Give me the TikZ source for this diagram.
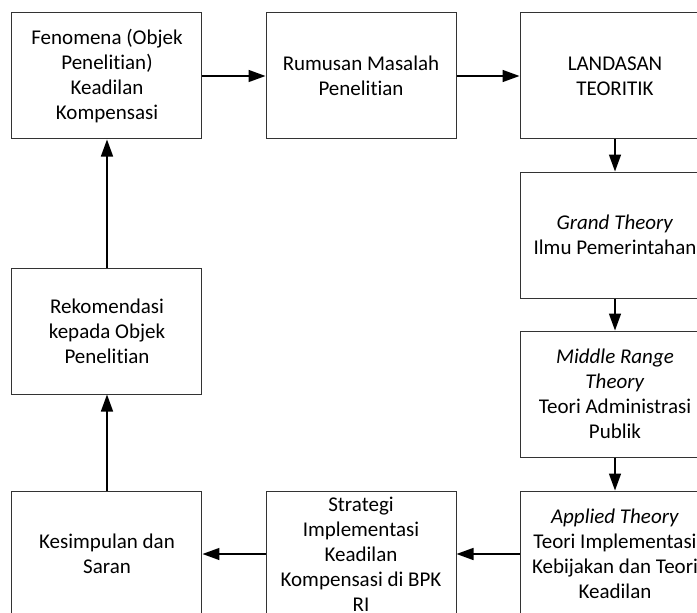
\documentclass[tikz,border=0pt]{standalone}
\usepackage{fontspec}
\setmainfont{Carlito}[Ligatures=NoCommon]
\usetikzlibrary{arrows.meta, positioning}

\begin{document}
\begin{tikzpicture}[
    box/.style={rectangle, draw=black!80, line width=1pt, minimum width=190pt, minimum height=126pt, inner sep=0pt, align=center, font=\fontsize{21}{25}\selectfont},
    line/.style={draw, line width=1.5pt, -{Triangle[length=17pt, width=12pt]}}
]
\useasboundingbox (-107pt,76pt) rectangle (590pt,-537pt);

% Top row
\node[box] (fenomena) at (0,0) {Fenomena (Objek\\Penelitian)\\Keadilan\\Kompensasi};
\node[box, right=63pt of fenomena] (rumusan) {Rumusan Masalah\\Penelitian};
\node[box, right=63pt of rumusan] (landasan) {LANDASAN\\TEORITIK};

% Right column
\node[box, below=32pt of landasan] (grand) {\textit{Grand Theory}\\Ilmu Pemerintahan};
\node[box, below=32pt of grand] (middle) {\textit{Middle Range}\\\textit{Theory}\\Teori Administrasi\\Publik};
\node[box, below=33pt of middle] (applied) {\textit{Applied Theory}\\Teori Implementasi\\Kebijakan dan Teori\\Keadilan};

% Bottom row and left column
\node[box, left=63pt of applied] (strategi) {Strategi\\Implementasi\\Keadilan\\Kompensasi di BPK\\RI};
\node[box, left=63pt of strategi] (kesimpulan) {Kesimpulan dan\\Saran};
\node[box, below=128pt of fenomena] (rekomendasi) {Rekomendasi\\kepada Objek\\Penelitian};

% Connections
\path [line] (fenomena) -- (rumusan);
\path [line] (rumusan) -- (landasan);
\path [line] (landasan) -- (grand);
\path [line] (grand) -- (middle);
\path [line] (middle) -- (applied);
\path [line] (applied) -- (strategi);
\path [line] (strategi) -- (kesimpulan);
\path [line] (kesimpulan) -- (rekomendasi);
\path [line] (rekomendasi) -- (fenomena);

\end{tikzpicture}
\end{document}
